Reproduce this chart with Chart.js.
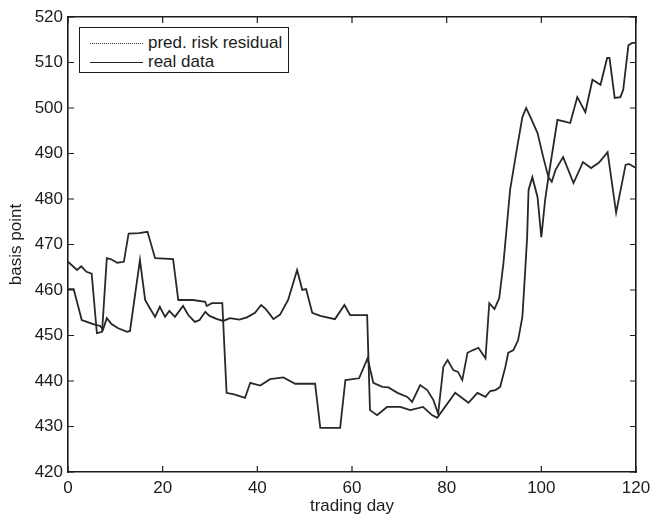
<!DOCTYPE html>
<html lang="en">
<head>
  <meta charset="UTF-8">
  <title>basis point vs trading day</title>
  <script src="https://cdn.jsdelivr.net/npm/chart.js"></script>
  <style>
    body { margin: 0; background: #fff; font-family: "Liberation Sans", Arial, sans-serif; }
    #wrap { position: relative; width: 651px; height: 517px; }
    #legend {
      position: absolute; left: 79px; top: 27px; width: 208px; height: 44px;
      border: 1.5px solid #1c1c1c; background: #fff; color: #1c1c1c; font-size: 17px;
    }
    #legend .row { position: absolute; left: 10px; height: 20px; line-height: 20px; white-space: nowrap; }
    #legend .sample { display: inline-block; width: 53px; vertical-align: middle; margin-right: 5px; }
  </style>
</head>
<body>
  <div id="wrap">
    <canvas id="chart" width="651" height="517"></canvas>
    <div id="legend">
      <div class="row" style="top:5px"><span class="sample" style="border-top:1px dotted #333"></span>pred. risk residual</div>
      <div class="row" style="top:24px"><span class="sample" style="border-top:1.5px solid #222"></span>real data</div>
    </div>
  </div>

  <script>
    // values
    const predDays = [0, 1.9, 2.8, 3.9, 5, 6.1, 7.2, 8.2, 9, 10.4, 11.8, 12.8, 15, 16.8, 18.4, 22.2, 23.3, 26.4, 29, 29.3, 30.4, 32.6,
      33.5, 35.3, 37.4, 38.5, 40.6, 42.7, 45.5, 48, 50, 52.2, 53.3, 57.5, 58.6, 61.5, 63.3, 64.5, 66.4, 67.7, 69.6, 71.7, 72.7,
      74.4, 75.9, 77.2, 78.2, 79.3, 80.2, 81.4, 82.4, 83.3, 84.4, 85.6, 86.7, 88.2, 89, 90.1, 91.1, 92, 93.4, 94.9, 96, 96.8,
      97.7, 99.2, 100.4, 101.5, 102.2, 103, 104.6, 106.8, 108.8, 110.5, 112.2, 114, 115.8, 117.8, 118.5, 120];
    const predValues = [466.2, 464.4, 465.2, 464, 463.6, 450.5, 450.8, 467, 466.8, 466, 466.2, 472.4, 472.5, 472.8, 467, 466.8, 457.8, 457.8, 457.4, 456.5, 457.1, 457.1,
      437.4, 437, 436.3, 439.6, 439, 440.4, 440.8, 439.4, 439.4, 439.4, 429.7, 429.7, 440.2, 440.6, 445, 439.6, 438.7, 438.6, 437.4, 436.5, 435.4,
      439.1, 438, 435.8, 432.8, 443.1, 444.6, 442.4, 442, 440.2, 446.2, 446.8, 447.3, 445, 457.1, 455.8, 458.2, 465.9, 482, 491.4, 498, 500,
      498, 494.5, 489.2, 484.8, 483.8, 486.4, 489.2, 483.5, 488.1, 486.8, 488, 490.3, 477, 487.5, 487.7, 486.8];

    const realDays = [0, 1.2, 2.9, 4, 5.3, 6.8, 7.4, 8.2, 9.2, 10.6, 12.5, 13.1, 15.2, 16.3, 17.3, 18.4, 19.4, 20.5, 21.4, 22.6, 24.3,
      25.4, 26.8, 27.8, 29, 29.9, 31.5, 32.8, 34.2, 36.2, 37.8, 39.5, 40.8, 41.8, 43.4, 44.8, 46.5, 48.4, 49.5, 50.3, 51.6, 53.3,
      56.4, 58.4, 59.6, 63.2, 63.8, 65.3, 67.4, 70.2, 72.3, 75, 76.9, 78, 81.8, 84.6, 86.5, 88.2, 89.2, 90.3, 91.3, 92.4, 93, 94.1,
      95.1, 96, 96.6, 97, 97.3, 98.1, 99.2, 100, 100.8, 101.5, 103.4, 105, 106.1, 107.6, 109.3, 110.8, 112.5, 113.9, 114.4, 115.5,
      116.7, 117.3, 118.4, 119.2, 120];
    const realValues = [460.2, 460.2, 453.4, 453, 452.5, 452.1, 451.3, 453.8, 452.5, 451.6, 450.8, 451, 466.6, 457.8, 456, 454.1, 456.3, 454.1, 455.4, 454.1, 456.5,
      454.5, 453, 453.4, 455.2, 454.3, 453.6, 453.2, 453.8, 453.5, 454, 455, 456.7, 455.8, 453.6, 454.6, 457.8, 464.4, 460, 460.2, 455, 454.3,
      453.6, 456.7, 454.5, 454.5, 433.6, 432.5, 434.3, 434.3, 433.6, 434.3, 432.5, 431.9, 437.4, 435.2, 437.4, 436.5, 437.8, 438, 438.7, 443.1, 446.2, 446.8,
      449, 454.1, 464.4, 471.6, 482, 484.8, 480.4, 471.6, 479.8, 484.8, 497.4, 497, 496.7, 502.4, 499.1, 506.2, 505.1, 511, 511, 502.2,
      502.4, 504, 513.8, 514.3, 514.3];

    const xTicks = [0, 20, 40, 60, 80, 100, 120];
    const yTicks = [420, 430, 440, 450, 460, 470, 480, 490, 500, 510, 520];

    const ink = '#1c1c1c';
    const tickFont = { family: '"Liberation Sans", Arial, sans-serif', size: 17 };

    function toPoints(days, values) {
      return days.map((d, i) => ({ x: d, y: values[i] }));
    }

    function boxAxis(position, ticks, size, showLabels) {
      const horizontal = position === 'top' || position === 'bottom';
      return {
        type: 'linear',
        position: position,
        min: ticks[0],
        max: ticks[ticks.length - 1],
        afterBuildTicks: s => { s.ticks = ticks.map(v => ({ value: v })); },
        ticks: { display: showLabels, font: tickFont, color: ink, padding: horizontal ? 6 : 5 },
        grid: { display: false, drawTicks: false },
        border: { display: true, color: ink, width: 1.6 },
        afterFit: s => {
          if (horizontal) {
            s.height = size;
            // the box itself is fixed, so end labels need no extra room
            s.paddingLeft = 0;
            s.paddingRight = 0;
          } else {
            s.width = size;
            s.paddingTop = 0;
            s.paddingBottom = 0;
          }
        }
      };
    }

    // matlab-style tick marks pointing into the plot box
    const innerTicks = {
      id: 'innerTicks',
      afterDraw(chart) {
        const ctx = chart.ctx;
        const area = chart.chartArea;
        const len = 6;
        ctx.save();
        ctx.strokeStyle = ink;
        ctx.lineWidth = 1.2;
        ctx.beginPath();
        Object.values(chart.scales).forEach(s => {
          s.ticks.forEach(t => {
            const p = s.getPixelForValue(t.value);
            if (s.position === 'bottom') { ctx.moveTo(p, area.bottom); ctx.lineTo(p, area.bottom - len); }
            if (s.position === 'top') { ctx.moveTo(p, area.top); ctx.lineTo(p, area.top + len); }
            if (s.position === 'left') { ctx.moveTo(area.left, p); ctx.lineTo(area.left + len, p); }
            if (s.position === 'right') { ctx.moveTo(area.right, p); ctx.lineTo(area.right - len, p); }
          });
        });
        ctx.stroke();
        ctx.restore();
      }
    };

    const xAxis = boxAxis('bottom', xTicks, 45, true);
    xAxis.title = { display: true, text: 'trading day', color: ink, font: tickFont, padding: { top: 0, bottom: 0 } };
    const yAxis = boxAxis('left', yTicks, 68, true);
    yAxis.title = { display: true, text: 'basis point', color: ink, font: tickFont, padding: { top: 6, bottom: 0 } };

    new Chart(document.getElementById('chart'), {
      type: 'line',
      data: {
        datasets: [
          {
            label: 'pred. risk residual',
            data: toPoints(predDays, predValues),
            borderColor: '#2a2a2a', borderWidth: 1.8,
            pointRadius: 0, tension: 0, fill: false
          },
          {
            label: 'real data',
            data: toPoints(realDays, realValues),
            borderColor: '#262626', borderWidth: 1.8,
            pointRadius: 0, tension: 0, fill: false
          }
        ]
      },
      options: {
        responsive: false,
        animation: false,
        layout: { padding: 0 },
        plugins: { legend: { display: false }, tooltip: { enabled: false } },
        scales: {
          x: xAxis,
          y: yAxis,
          x2: boxAxis('top', xTicks, 17, false),
          y2: boxAxis('right', yTicks, 15, false)
        }
      },
      plugins: [innerTicks]
    });
  </script>
</body>
</html>
